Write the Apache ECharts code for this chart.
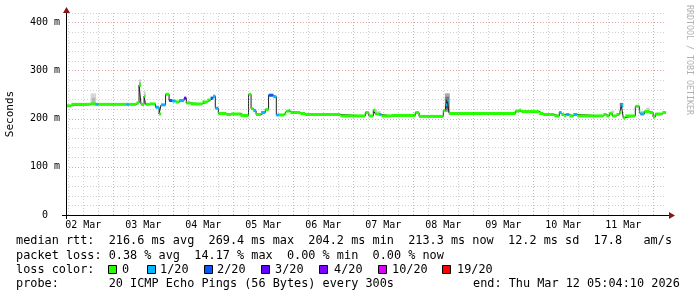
<!DOCTYPE html>
<html><head><meta charset="utf-8">
<script src="https://cdn.jsdelivr.net/npm/echarts@6/dist/echarts.min.js"></script>
<style>html,body{margin:0;padding:0;background:#fff}#c{width:697px;height:297px}</style>
</head><body><div id="c"></div><script>
// Time is in hours since 02 Mar 00:00
const startHour = 5.0694, endHour = 245.0694;

// median rtt, step segments: start hour, median ms, lost pings (of 20)
const segStart = [5.07,7.2,14.8,16.8,18.0,29.2,30.4,33.2,34.3,35.1,
  36.3,36.9,38.5,40.9,42.3,43.1,44.9,46.3,47.6,48.9,
  50.3,52.3,53.2,54.9,59.6,61.6,62.9,63.9,64.8,66.0,
  69.2,71.1,74.8,78.1,79.1,80.0,81.1,83.1,84.8,86.1,
  88.0,89.2,90.4,92.4,93.2,94.3,94.8,98.8,100.8,114.8,
  124.8,126.2,128.0,128.8,130.4,131.2,135.2,144.8,146.3,156.0,
  156.9,157.6,158.3,184.8,186.4,187.2,194.4,196.0,200.4,202.4,
  203.2,204.4,205.2,206.4,208.0,209.6,220.0,221.2,222.4,223.6,
  225.2,226.4,227.2,228.0,228.8,232.8,234.4,234.8,236.4,238.4,
  239.9,240.8,243.6];
const segMedian = [227,230,231,230,230,230,230,233,270,230,
  247,230,231,224,210,229,251,238,237,235,
  238,243,233,231,235,239,243,247,222,211,
  209,210,207,251,221,217,209,213,219,249,
  246,208,208,210,216,217,213,211,209,206,
  213,206,218,210,209,206,207,213,205,217,
  229,238,211,216,218,215,211,209,206,213,
  209,206,209,206,209,206,209,206,211,206,
  209,213,228,202,206,226,216,210,215,213,
  204,210,213];
const segLoss = [0,0,0,1,0,1,0,0,0,0,
  0,0,0,1,0,1,0,2,1,0,
  1,3,0,0,0,0,2,1,1,0,
  0,0,0,0,0,1,0,1,0,2,
  1,1,0,0,0,1,0,0,0,0,
  0,0,0,0,1,0,0,0,0,0,
  1,1,0,0,0,0,0,0,0,1,
  0,0,1,0,1,0,0,0,0,0,
  0,0,1,0,0,0,0,1,0,0,
  0,0,0];

// smoke (ping spread): start hour, end hour, low ms, high ms, grey level
const smokeStart = [14.9,15.3,34.3,34.3,36.3,74.4,128.4,129.6,156.6,156.8,157.0,158.3,202.2,204.8,222.8,226.6,226.6,235.0,237.2];
const smokeEnd   = [17.1,16.8,35.1,35.1,36.9,75.6,129.6,131.0,158.6,158.3,157.9,160.0,203.4,205.6,224.4,227.8,227.8,236.6,238.6];
const smokeLow   = [233,233,270,268,247,208,212,210,214,218,222,211,210,208,212,222,228,211,216];
const smokeHigh  = [253,244,282,276,257,213,220,216,253,246,240,214,216,212,217,233,233,216,223];
const smokeGrey  = [215,185,210,170,200,205,205,212,170,120,80,212,195,205,212,160,120,195,205];

const dayLabels = ['02 Mar','03 Mar','04 Mar','05 Mar','06 Mar','07 Mar','08 Mar','09 Mar','10 Mar','11 Mar'];
const dayLabelHours = [12,36,60,84,108,132,156,180,204,228];
const yTickLabels = {0:'0  ',100:'100 m',200:'200 m',300:'300 m',400:'400 m'};

const lossLevels = [0,1,2,3,4,10,19];
const lossLabels = ['0','1/20','2/20','3/20','4/20','10/20','19/20'];
const lossColors = ['#26ff00','#00b8ff','#0059ff','#5e00ff','#7e00ff','#dd00ff','#ff0000'];

const medianLine = 'median rtt:  216.6 ms avg  269.4 ms max  204.2 ms min  213.3 ms now  12.2 ms sd  17.8   am/s';
const lossLine = 'packet loss: 0.38 % avg  14.17 % max  0.00 % min  0.00 % now';
const colorLine = 'loss color:';
const probeLine = 'probe:       20 ICMP Echo Pings (56 Bytes) every 300s';
const endText = 'end: Thu Mar 12 05:04:10 2026';

function lossColor(n){ let c = lossColors[0]; for (let i=0;i<lossLevels.length;i++) if (n>=lossLevels[i]) c = lossColors[i]; return c; }

// build series data
const stepData = segStart.map((t,i)=>[t, segMedian[i]]);
stepData[0][0] = startHour;
stepData.push([endHour, segMedian[segMedian.length-1]]);
const segData = segStart.map((t,i)=>[i===0?startHour:t, i<segStart.length-1?segStart[i+1]:endHour, segMedian[i], segLoss[i]]);
const smokeData = smokeStart.map((t,i)=>[t, smokeEnd[i], smokeLow[i], smokeHigh[i], smokeGrey[i]]);

const MONO = 'DejaVu Sans Mono';
const majorC = 'rgba(210,60,60,0.45)', minorC = 'rgba(150,150,150,0.45)';
const vLines = [];
for (let h=6; h<=240; h+=6) vLines.push({xAxis:h, lineStyle:{color: h%24===0?majorC:minorC, type:[1,2], width:1}});

const G = {left:66, top:13, width:600, height:202, containLabel:false, outerBoundsMode:'none'};

const graphics = [];
const rowY = [241,255.5,269.5,283.5];
const TF = '11.85px ' + MONO;
const txt = (x,y,s)=>({type:'text', x:x, y:y, style:{text:s, font:TF, fill:'#000', textVerticalAlign:'middle'}});
graphics.push(txt(16,rowY[0],medianLine));
graphics.push(txt(16,rowY[1],lossLine));
graphics.push(txt(16,rowY[2],colorLine));
graphics.push(txt(16,rowY[3],probeLine));
graphics.push(txt(473,rowY[3],endText));
const sqX = [108,147,204,261,319,378,442], sqLX = [122,160,217,275,334,392,457];
lossLabels.forEach((s,i)=>{
  graphics.push({type:'rect', shape:{x:sqX[i]+0.5, y:265.5, width:8, height:8}, style:{fill:lossColors[i], stroke:'#000', lineWidth:1}});
  graphics.push(txt(sqLX[i],rowY[2],s));
});
// axis extensions and arrows
graphics.push({type:'line', shape:{x1:62, y1:215.5, x2:670, y2:215.5}, style:{stroke:'#000', lineWidth:1}, z:10});
graphics.push({type:'line', shape:{x1:66.5, y1:219, x2:66.5, y2:12}, style:{stroke:'#000', lineWidth:1}, z:10});
graphics.push({type:'polygon', shape:{points:[[669,212],[669,219],[675,215.5]]}, style:{fill:'#8b1414'}, z:10});
graphics.push({type:'polygon', shape:{points:[[63,13],[70,13],[66.5,7]]}, style:{fill:'#8b1414'}, z:10});
graphics.push({type:'text', x:689, y:5, rotation:-Math.PI/2, style:{text:'RRDTOOL / TOBI OETIKER', font:'8.3px '+MONO, fill:'#b0b0b0', textVerticalAlign:'middle'}});

const chart = echarts.init(document.getElementById('c'), null, {renderer:'canvas'});
chart.setOption({
  animation:false,
  backgroundColor:'#fff',
  grid:G,
  xAxis:{type:'value', min:startHour, max:endHour,
    axisLine:{show:false}, axisTick:{show:false}, splitLine:{show:false},
    axisLabel:{customValues:dayLabelHours, margin:5, color:'#000', fontFamily:MONO, fontSize:10,
      formatter:v=>dayLabels[Math.round((v-12)/24)]||''}},
  yAxis:{type:'value', min:0, max:420, interval:20,
    name:'Seconds', nameLocation:'middle', nameRotate:90, nameGap:50,
    nameTextStyle:{fontFamily:MONO, fontSize:11, color:'#000'},
    axisLine:{show:false}, axisTick:{show:false},
    splitLine:{show:true, lineStyle:{color:[majorC,minorC,minorC,minorC,minorC], type:[1,2], width:1}},
    axisLabel:{margin:6, color:'#000', fontFamily:MONO, fontSize:10, showMaxLabel:false, padding:[6,0,0,0],
      formatter:v=>yTickLabels[v]!==undefined?yTickLabels[v]:''}},
  graphic:graphics,
  series:[
    {type:'line', data:[], silent:true, z:1,
      markLine:{silent:true, symbol:'none', label:{show:false}, data:vLines}},
    {type:'custom', z:2, silent:true, data:smokeData, encode:{x:[0,1], y:[2,3]},
      renderItem:(p,api)=>{
        const a = api.coord([api.value(0), api.value(3)]);
        const b = api.coord([api.value(1), api.value(2)]);
        const g = api.value(4);
        return {type:'rect', shape:{x:a[0], y:a[1], width:b[0]-a[0], height:b[1]-a[1]}, style:{fill:`rgb(${g},${g},${g})`}};
      }},
    {type:'line', z:3, step:'end', data:stepData, showSymbol:false, silent:true,
      lineStyle:{color:'#202020', width:1}},
    {type:'custom', z:4, silent:true, data:segData, encode:{x:[0,1], y:2},
      renderItem:(p,api)=>{
        const a = api.coord([api.value(0), api.value(2)]);
        const b = api.coord([api.value(1), api.value(2)]);
        return {type:'rect', shape:{x:a[0], y:a[1]-1.5, width:b[0]-a[0], height:3}, style:{fill:lossColor(api.value(3))}};
      }}
  ]
});
</script></body></html>
